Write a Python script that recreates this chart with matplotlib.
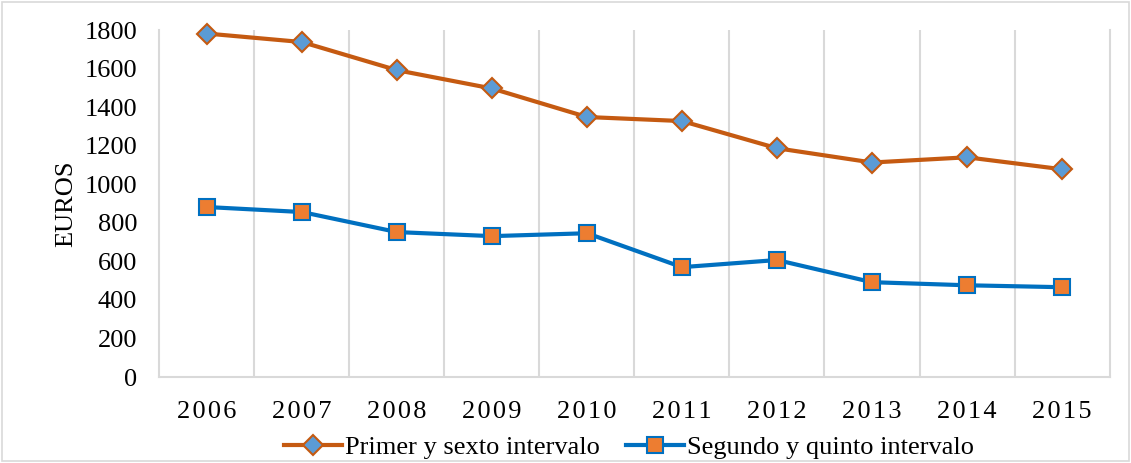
import matplotlib.pyplot as plt
from matplotlib.patches import Rectangle

years = [2006, 2007, 2008, 2009, 2010, 2011, 2012, 2013, 2014, 2015]
primer_sexto = [1782, 1738, 1592, 1497, 1349, 1328, 1187, 1113, 1140, 1078]
segundo_quinto = [882, 856, 752, 731, 746, 570, 607, 492, 476, 466]
y_ticks = [0, 200, 400, 600, 800, 1000, 1200, 1400, 1600, 1800]

plt.rcParams['font.family'] = ['Liberation Serif', 'DejaVu Serif']

fig = plt.figure(figsize=(11.31, 4.63), dpi=100)
ax = fig.add_axes([0.141, 0.1857, 0.84, 0.7493])

x = list(range(len(years)))
ax.plot(x, primer_sexto, color='#C55A11', lw=3, marker='D', ms=10.5,
        mfc='#5B9BD5', mec='#C55A11', mew=1.5, label='Primer y sexto intervalo',
        clip_on=False)
ax.plot(x, segundo_quinto, color='#0070C0', lw=3, marker='s', ms=12,
        mfc='#ED7D31', mec='#0070C0', mew=1.5, label='Segundo y quinto intervalo',
        clip_on=False)

ax.set_xlim(-0.5, len(years) - 0.5)
ax.set_ylim(0, 1800)
ax.set_yticks(y_ticks)
ax.set_xticks(x)
# letter-spaced year labels like the original
ax.set_xticklabels(['\u200a'.join(str(y)) for y in years])
ax.set_xticks([i + 0.5 for i in range(len(years) - 1)], minor=True)
ax.grid(True, which='minor', axis='x', color='#D9D9D9', lw=1.5)
ax.tick_params(axis='both', which='both', length=0, labelsize=19)
ax.tick_params(axis='x', pad=17)
ax.tick_params(axis='y', pad=16)

for side in ['left', 'right', 'bottom']:
    ax.spines[side].set_color('#D9D9D9')
    ax.spines[side].set_linewidth(1.5)
ax.spines['top'].set_visible(False)

ax.set_ylabel('EUROS', fontsize=19, labelpad=5)

fig.legend(loc='center', bbox_to_anchor=(0.556, 0.033), ncol=2, frameon=False,
           fontsize=19, handlelength=2.2, columnspacing=1.0, handletextpad=0.1,
           borderpad=0)

fig.patches.append(Rectangle((0.002, 0.004), 0.996, 0.992, transform=fig.transFigure,
                             fill=False, edgecolor='#D9D9D9', lw=1.2))

fig.savefig('out.png', dpi=100)
